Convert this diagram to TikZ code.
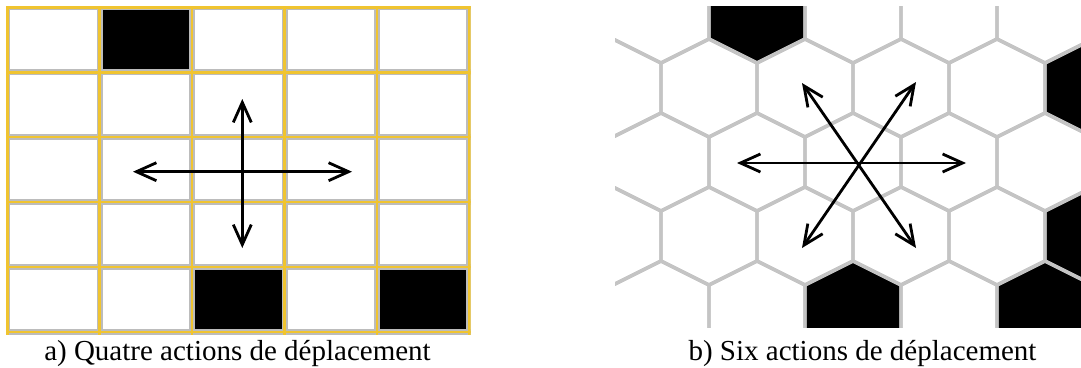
\documentclass[tikz,border=0pt]{standalone}
\usepackage{fontspec}
\setmainfont{Liberation Serif}
\usetikzlibrary{arrows.meta}
\definecolor{gridyellow}{RGB}{240,196,48}
\definecolor{rimgray}{RGB}{188,188,188}
\definecolor{hexgray}{RGB}{196,196,196}
\tikzset{
  rimline/.style={draw=rimgray, line width=6pt},
  gridline/.style={draw=gridyellow, line width=2.6pt},
  hexedge/.style={draw=hexgray, line width=3.4pt, line join=round},
  hexwall/.style={fill=black},
  move/.style={{Straight Barb[length=20pt,width=18pt]}-{Straight Barb[length=20pt,width=18pt]}, line width=2.8pt},
  caption/.style={font=\fontsize{29}{34}\selectfont, anchor=base, inner sep=0pt}
}
% hexagon path around a centre (x,y), pointy top
\newcommand{\hexpath}[2]{(#1,#2) ++(0,-49) -- ++(48,24) -- ++(0,50) -- ++(-48,24) -- ++(-48,-24) -- ++(0,-50) -- cycle}

\begin{document}
\begin{tikzpicture}[x=1pt, y=-1pt]
  \useasboundingbox (0,0) rectangle (1081,367);
  \fill[white] (0,0) rectangle (1081,367);

  % square grid, four moves
  \begin{scope}
    \clip (6,6) rectangle (470.5,334.5);
    \fill[black] (99.7,7.3) rectangle +(92.4,64.9);
    \fill[black] (192.1,267) rectangle +(92.4,64.9);
    \fill[black] (376.9,267) rectangle +(92.4,64.9);
    \fill[black] (7.3,331.8) rectangle (469.3,340);
    \foreach \i in {0,...,5} {
      \draw[rimline] (7.3+92.4*\i,0) -- (7.3+92.4*\i,340);
      \draw[rimline] (0,7.3+64.9*\i) -- (480,7.3+64.9*\i);
    }
    \foreach \i in {0,...,5} {
      \draw[gridline] (7.3+92.4*\i,0) -- (7.3+92.4*\i,340);
      \draw[gridline] (0,7.3+64.9*\i) -- (480,7.3+64.9*\i);
    }
  \end{scope}

  \coordinate (n4) at (242.3,99);
  \coordinate (s4) at (242.3,248);
  \coordinate (w4) at (133,171.7);
  \coordinate (e4) at (352,171.7);
  \draw[move] (w4) -- (e4);
  \draw[move] (n4) -- (s4);

  % hexagonal grid, six moves
  \begin{scope}
    \clip (615,6) rectangle (1081,327);
    \fill[hexwall] \hexpath{757}{14};
    \fill[hexwall] \hexpath{1093}{88};
    \fill[hexwall] \hexpath{1093}{236};
    \fill[hexwall] \hexpath{853}{310};
    \fill[hexwall] \hexpath{1045}{310};
    \foreach \r in {0,2,4}
      \foreach \k in {-1,...,5}
        \draw[hexedge] \hexpath{661+96*\k}{14+74*\r};
    \foreach \r in {1,3}
      \foreach \k in {0,...,5}
        \draw[hexedge] \hexpath{613+96*\k}{14+74*\r};
  \end{scope}

  \coordinate (w6) at (737,163);
  \coordinate (e6) at (966,163);
  \coordinate (nw6) at (802,83);
  \coordinate (se6) at (916,248);
  \coordinate (ne6) at (916,82);
  \coordinate (sw6) at (802,248);
  \draw[move] (w6) -- (e6);
  \draw[move] (nw6) -- (se6);
  \draw[move] (ne6) -- (sw6);

  \node[caption] (capa) at (237.5,360) {a) Quatre actions de déplacement};
  \node[caption] (capb) at (862.5,360) {b) Six actions de déplacement};
\end{tikzpicture}
\end{document}
